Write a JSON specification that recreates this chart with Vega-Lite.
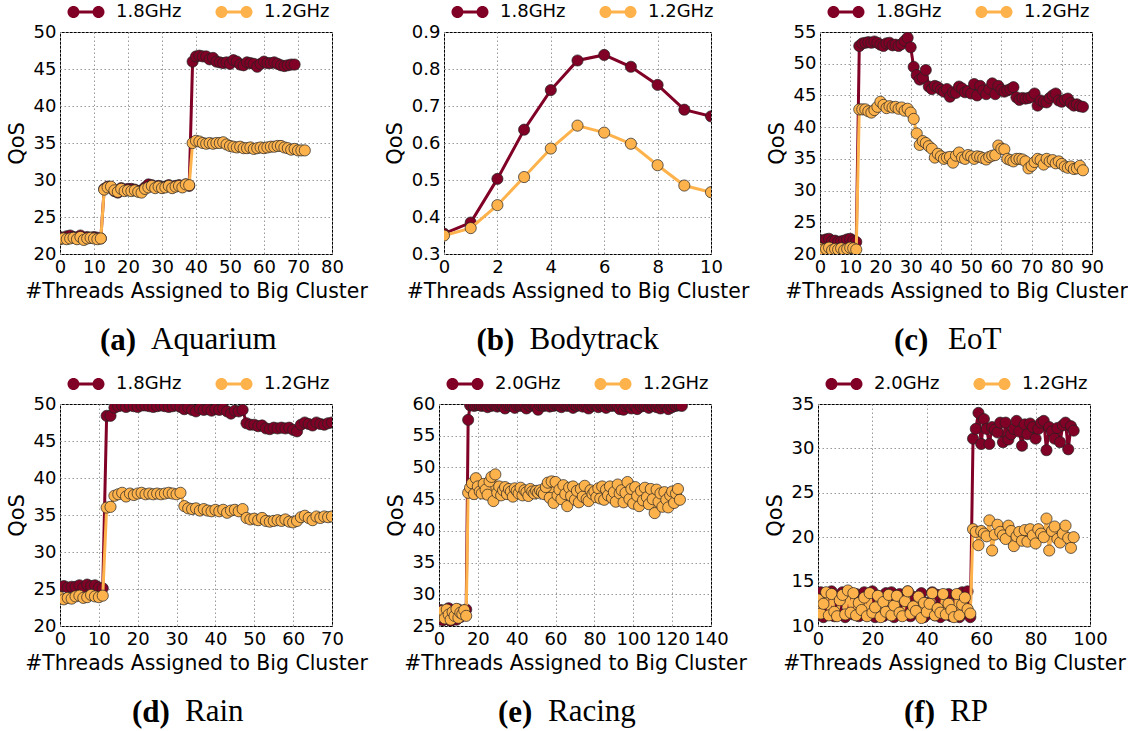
{
"padding": {"left": 5, "top": 1, "right": 0, "bottom": 0},
"config": {
 "font": "DejaVu Sans",
 "view": {"stroke": "#000", "strokeWidth": 1},
 "axis": {"labelFont": "DejaVu Sans", "labelFontSize": 18, "labelColor": "#000", "titleFont": "DejaVu Sans", "titleFontSize": 20.4, "titleFontWeight": "normal", "titleColor": "#000", "domain": false, "ticks": false, "labelPadding": 4, "grid": true, "gridColor": "#999", "gridDash": [1.5, 2.5], "gridWidth": 1, "labelFlush": false, "labelOverlap": false},
 "axisX": {"titlePadding": 5},
 "axisY": {"titleFontSize": 21, "titlePadding": 6},
 "legend": {"labelFont": "DejaVu Sans", "labelFontSize": 18, "labelColor": "#000", "labelLimit": 200, "symbolType": "M-1.25,-0.15L1.25,-0.15L1.25,0.15L-1.25,0.15Z M-1.85,0A0.6,0.6 0 1,1 -0.65,0A0.6,0.6 0 1,1 -1.85,0Z M0.65,0A0.6,0.6 0 1,1 1.85,0A0.6,0.6 0 1,1 0.65,0Z", "symbolSize": 400, "symbolStrokeWidth": 0, "symbolOpacity": 1, "labelOffset": 20, "columnPadding": 33, "padding": 0},
 "title": {"orient": "bottom", "anchor": "middle", "frame": "group", "font": "Liberation Serif", "fontSize": 31, "fontWeight": "bold", "color": "#000", "subtitleFont": "Liberation Serif", "subtitleFontSize": 31, "subtitleFontWeight": "normal", "subtitleColor": "#000", "subtitlePadding": -32, "offset": 25}
},
"datasets": {
"a": [
{"x":0,"y":22.3,"s":"1.8GHz"},{"x":1,"y":22.2,"s":"1.8GHz"},{"x":2,"y":22.4,"s":"1.8GHz"},{"x":3,"y":22.5,"s":"1.8GHz"},{"x":4,"y":22.3,"s":"1.8GHz"},{"x":5,"y":22.2,"s":"1.8GHz"},{"x":6,"y":22.5,"s":"1.8GHz"},{"x":7,"y":22.1,"s":"1.8GHz"},{"x":8,"y":22.3,"s":"1.8GHz"},{"x":9,"y":22.2,"s":"1.8GHz"},{"x":10,"y":22.3,"s":"1.8GHz"},{"x":11,"y":22.2,"s":"1.8GHz"},{"x":12,"y":22.1,"s":"1.8GHz"},
{"x":13,"y":28.8,"s":"1.8GHz"},{"x":14,"y":29.1,"s":"1.8GHz"},{"x":15,"y":29.0,"s":"1.8GHz"},{"x":16,"y":28.5,"s":"1.8GHz"},{"x":17,"y":28.3,"s":"1.8GHz"},{"x":18,"y":28.9,"s":"1.8GHz"},{"x":19,"y":28.7,"s":"1.8GHz"},{"x":20,"y":28.8,"s":"1.8GHz"},{"x":21,"y":28.8,"s":"1.8GHz"},{"x":22,"y":28.7,"s":"1.8GHz"},{"x":23,"y":28.5,"s":"1.8GHz"},{"x":24,"y":28.6,"s":"1.8GHz"},{"x":25,"y":29.0,"s":"1.8GHz"},{"x":26,"y":29.4,"s":"1.8GHz"},{"x":27,"y":29.3,"s":"1.8GHz"},{"x":28,"y":29.1,"s":"1.8GHz"},{"x":29,"y":29.2,"s":"1.8GHz"},{"x":30,"y":29.0,"s":"1.8GHz"},{"x":31,"y":29.1,"s":"1.8GHz"},{"x":32,"y":29.3,"s":"1.8GHz"},{"x":33,"y":29.0,"s":"1.8GHz"},{"x":34,"y":29.2,"s":"1.8GHz"},{"x":35,"y":29.3,"s":"1.8GHz"},{"x":36,"y":29.1,"s":"1.8GHz"},{"x":37,"y":29.4,"s":"1.8GHz"},{"x":38,"y":29.2,"s":"1.8GHz"},
{"x":39,"y":46.0,"s":"1.8GHz"},{"x":40,"y":46.7,"s":"1.8GHz"},{"x":41,"y":46.8,"s":"1.8GHz"},{"x":42,"y":46.7,"s":"1.8GHz"},{"x":43,"y":46.7,"s":"1.8GHz"},{"x":44,"y":46.3,"s":"1.8GHz"},{"x":45,"y":46.5,"s":"1.8GHz"},{"x":46,"y":46.0,"s":"1.8GHz"},{"x":47,"y":45.9,"s":"1.8GHz"},{"x":48,"y":45.8,"s":"1.8GHz"},{"x":49,"y":45.9,"s":"1.8GHz"},{"x":50,"y":45.7,"s":"1.8GHz"},{"x":51,"y":46.2,"s":"1.8GHz"},{"x":52,"y":46.0,"s":"1.8GHz"},{"x":53,"y":45.6,"s":"1.8GHz"},{"x":54,"y":45.5,"s":"1.8GHz"},{"x":55,"y":45.9,"s":"1.8GHz"},{"x":56,"y":45.8,"s":"1.8GHz"},{"x":57,"y":45.7,"s":"1.8GHz"},{"x":58,"y":45.3,"s":"1.8GHz"},{"x":59,"y":45.7,"s":"1.8GHz"},{"x":60,"y":46.0,"s":"1.8GHz"},{"x":61,"y":45.8,"s":"1.8GHz"},{"x":62,"y":45.8,"s":"1.8GHz"},{"x":63,"y":45.9,"s":"1.8GHz"},{"x":64,"y":45.7,"s":"1.8GHz"},{"x":65,"y":45.5,"s":"1.8GHz"},{"x":66,"y":45.4,"s":"1.8GHz"},{"x":67,"y":45.5,"s":"1.8GHz"},{"x":68,"y":45.6,"s":"1.8GHz"},{"x":69,"y":45.6,"s":"1.8GHz"},
{"x":0,"y":22.0,"s":"1.2GHz"},{"x":1,"y":22.1,"s":"1.2GHz"},{"x":2,"y":22.0,"s":"1.2GHz"},{"x":3,"y":22.1,"s":"1.2GHz"},{"x":4,"y":22.2,"s":"1.2GHz"},{"x":5,"y":22.0,"s":"1.2GHz"},{"x":6,"y":22.3,"s":"1.2GHz"},{"x":7,"y":21.9,"s":"1.2GHz"},{"x":8,"y":22.1,"s":"1.2GHz"},{"x":9,"y":22.2,"s":"1.2GHz"},{"x":10,"y":22.1,"s":"1.2GHz"},{"x":11,"y":22.0,"s":"1.2GHz"},{"x":12,"y":22.1,"s":"1.2GHz"},
{"x":13,"y":28.7,"s":"1.2GHz"},{"x":14,"y":29.0,"s":"1.2GHz"},{"x":15,"y":29.1,"s":"1.2GHz"},{"x":16,"y":28.6,"s":"1.2GHz"},{"x":17,"y":28.4,"s":"1.2GHz"},{"x":18,"y":28.8,"s":"1.2GHz"},{"x":19,"y":28.5,"s":"1.2GHz"},{"x":20,"y":28.6,"s":"1.2GHz"},{"x":21,"y":28.5,"s":"1.2GHz"},{"x":22,"y":28.6,"s":"1.2GHz"},{"x":23,"y":28.4,"s":"1.2GHz"},{"x":24,"y":28.3,"s":"1.2GHz"},{"x":25,"y":28.8,"s":"1.2GHz"},{"x":26,"y":29.0,"s":"1.2GHz"},{"x":27,"y":29.2,"s":"1.2GHz"},{"x":28,"y":28.9,"s":"1.2GHz"},{"x":29,"y":29.1,"s":"1.2GHz"},{"x":30,"y":28.9,"s":"1.2GHz"},{"x":31,"y":29.0,"s":"1.2GHz"},{"x":32,"y":29.2,"s":"1.2GHz"},{"x":33,"y":28.9,"s":"1.2GHz"},{"x":34,"y":29.1,"s":"1.2GHz"},{"x":35,"y":29.2,"s":"1.2GHz"},{"x":36,"y":29.0,"s":"1.2GHz"},{"x":37,"y":29.4,"s":"1.2GHz"},{"x":38,"y":29.3,"s":"1.2GHz"},
{"x":39,"y":35.0,"s":"1.2GHz"},{"x":40,"y":35.3,"s":"1.2GHz"},{"x":41,"y":35.2,"s":"1.2GHz"},{"x":42,"y":35.0,"s":"1.2GHz"},{"x":43,"y":34.9,"s":"1.2GHz"},{"x":44,"y":35.0,"s":"1.2GHz"},{"x":45,"y":34.9,"s":"1.2GHz"},{"x":46,"y":35.0,"s":"1.2GHz"},{"x":47,"y":35.0,"s":"1.2GHz"},{"x":48,"y":35.1,"s":"1.2GHz"},{"x":49,"y":34.8,"s":"1.2GHz"},{"x":50,"y":34.6,"s":"1.2GHz"},{"x":51,"y":34.5,"s":"1.2GHz"},{"x":52,"y":34.4,"s":"1.2GHz"},{"x":53,"y":34.5,"s":"1.2GHz"},{"x":54,"y":34.3,"s":"1.2GHz"},{"x":55,"y":34.3,"s":"1.2GHz"},{"x":56,"y":34.4,"s":"1.2GHz"},{"x":57,"y":34.2,"s":"1.2GHz"},{"x":58,"y":34.3,"s":"1.2GHz"},{"x":59,"y":34.4,"s":"1.2GHz"},{"x":60,"y":34.3,"s":"1.2GHz"},{"x":61,"y":34.4,"s":"1.2GHz"},{"x":62,"y":34.5,"s":"1.2GHz"},{"x":63,"y":34.5,"s":"1.2GHz"},{"x":64,"y":34.6,"s":"1.2GHz"},{"x":65,"y":34.6,"s":"1.2GHz"},{"x":66,"y":34.4,"s":"1.2GHz"},{"x":67,"y":34.3,"s":"1.2GHz"},{"x":68,"y":34.1,"s":"1.2GHz"},{"x":69,"y":34.2,"s":"1.2GHz"},{"x":70,"y":34.0,"s":"1.2GHz"},{"x":71,"y":34.0,"s":"1.2GHz"},{"x":72,"y":34.0,"s":"1.2GHz"}
],
"b": [
{"x":0,"y":0.355,"s":"1.8GHz"},{"x":1,"y":0.385,"s":"1.8GHz"},{"x":2,"y":0.503,"s":"1.8GHz"},{"x":3,"y":0.636,"s":"1.8GHz"},{"x":4,"y":0.743,"s":"1.8GHz"},{"x":5,"y":0.823,"s":"1.8GHz"},{"x":6,"y":0.838,"s":"1.8GHz"},{"x":7,"y":0.806,"s":"1.8GHz"},{"x":8,"y":0.757,"s":"1.8GHz"},{"x":9,"y":0.69,"s":"1.8GHz"},{"x":10,"y":0.672,"s":"1.8GHz"},
{"x":0,"y":0.35,"s":"1.2GHz"},{"x":1,"y":0.37,"s":"1.2GHz"},{"x":2,"y":0.432,"s":"1.2GHz"},{"x":3,"y":0.508,"s":"1.2GHz"},{"x":4,"y":0.585,"s":"1.2GHz"},{"x":5,"y":0.647,"s":"1.2GHz"},{"x":6,"y":0.628,"s":"1.2GHz"},{"x":7,"y":0.598,"s":"1.2GHz"},{"x":8,"y":0.54,"s":"1.2GHz"},{"x":9,"y":0.485,"s":"1.2GHz"},{"x":10,"y":0.467,"s":"1.2GHz"}
],
"c": [
{"x":0,"y":22.2,"s":"1.8GHz"},{"x":1,"y":22.1,"s":"1.8GHz"},{"x":2,"y":22.3,"s":"1.8GHz"},{"x":3,"y":22.4,"s":"1.8GHz"},{"x":4,"y":22.0,"s":"1.8GHz"},{"x":5,"y":22.1,"s":"1.8GHz"},{"x":6,"y":21.9,"s":"1.8GHz"},{"x":7,"y":22.0,"s":"1.8GHz"},{"x":8,"y":22.1,"s":"1.8GHz"},{"x":9,"y":22.3,"s":"1.8GHz"},{"x":10,"y":22.4,"s":"1.8GHz"},{"x":11,"y":22.1,"s":"1.8GHz"},{"x":12,"y":21.9,"s":"1.8GHz"},
{"x":13,"y":52.8,"s":"1.8GHz"},{"x":14,"y":53.2,"s":"1.8GHz"},{"x":15,"y":53.3,"s":"1.8GHz"},{"x":16,"y":53.4,"s":"1.8GHz"},{"x":17,"y":53.3,"s":"1.8GHz"},{"x":18,"y":53.5,"s":"1.8GHz"},{"x":19,"y":53.3,"s":"1.8GHz"},{"x":20,"y":53.0,"s":"1.8GHz"},{"x":21,"y":52.8,"s":"1.8GHz"},{"x":22,"y":53.2,"s":"1.8GHz"},{"x":23,"y":53.3,"s":"1.8GHz"},{"x":24,"y":52.9,"s":"1.8GHz"},{"x":25,"y":53.0,"s":"1.8GHz"},{"x":26,"y":52.8,"s":"1.8GHz"},{"x":27,"y":53.1,"s":"1.8GHz"},{"x":28,"y":53.6,"s":"1.8GHz"},{"x":29,"y":54.1,"s":"1.8GHz"},{"x":30,"y":52.6,"s":"1.8GHz"},
{"x":31,"y":49.5,"s":"1.8GHz"},{"x":32,"y":48.2,"s":"1.8GHz"},{"x":33,"y":47.5,"s":"1.8GHz"},{"x":34,"y":47.8,"s":"1.8GHz"},{"x":35,"y":49.0,"s":"1.8GHz"},{"x":36,"y":46.4,"s":"1.8GHz"},{"x":37,"y":46.0,"s":"1.8GHz"},{"x":38,"y":46.5,"s":"1.8GHz"},{"x":39,"y":46.3,"s":"1.8GHz"},{"x":40,"y":45.9,"s":"1.8GHz"},{"x":41,"y":45.6,"s":"1.8GHz"},{"x":42,"y":46.0,"s":"1.8GHz"},{"x":43,"y":44.8,"s":"1.8GHz"},{"x":44,"y":45.5,"s":"1.8GHz"},{"x":45,"y":45.4,"s":"1.8GHz"},{"x":46,"y":46.4,"s":"1.8GHz"},{"x":47,"y":46.1,"s":"1.8GHz"},{"x":48,"y":45.5,"s":"1.8GHz"},{"x":49,"y":45.7,"s":"1.8GHz"},{"x":50,"y":45.3,"s":"1.8GHz"},{"x":51,"y":46.8,"s":"1.8GHz"},{"x":52,"y":45.0,"s":"1.8GHz"},{"x":53,"y":46.5,"s":"1.8GHz"},{"x":54,"y":45.8,"s":"1.8GHz"},{"x":55,"y":45.2,"s":"1.8GHz"},{"x":56,"y":46.0,"s":"1.8GHz"},{"x":57,"y":46.9,"s":"1.8GHz"},{"x":58,"y":45.2,"s":"1.8GHz"},{"x":59,"y":46.5,"s":"1.8GHz"},{"x":60,"y":45.9,"s":"1.8GHz"},{"x":61,"y":45.6,"s":"1.8GHz"},{"x":62,"y":45.8,"s":"1.8GHz"},{"x":63,"y":46.0,"s":"1.8GHz"},{"x":64,"y":46.3,"s":"1.8GHz"},{"x":65,"y":44.7,"s":"1.8GHz"},{"x":66,"y":44.3,"s":"1.8GHz"},{"x":67,"y":44.6,"s":"1.8GHz"},{"x":68,"y":44.5,"s":"1.8GHz"},{"x":69,"y":44.6,"s":"1.8GHz"},{"x":70,"y":44.8,"s":"1.8GHz"},{"x":71,"y":45.3,"s":"1.8GHz"},{"x":72,"y":43.4,"s":"1.8GHz"},{"x":73,"y":44.2,"s":"1.8GHz"},{"x":74,"y":44.0,"s":"1.8GHz"},{"x":75,"y":43.9,"s":"1.8GHz"},{"x":76,"y":44.6,"s":"1.8GHz"},{"x":77,"y":45.0,"s":"1.8GHz"},{"x":78,"y":45.3,"s":"1.8GHz"},{"x":79,"y":44.2,"s":"1.8GHz"},{"x":80,"y":44.0,"s":"1.8GHz"},{"x":81,"y":44.3,"s":"1.8GHz"},{"x":82,"y":44.5,"s":"1.8GHz"},{"x":83,"y":43.8,"s":"1.8GHz"},{"x":84,"y":43.4,"s":"1.8GHz"},{"x":85,"y":43.6,"s":"1.8GHz"},{"x":86,"y":43.3,"s":"1.8GHz"},{"x":87,"y":43.2,"s":"1.8GHz"},
{"x":0,"y":20.9,"s":"1.2GHz"},{"x":1,"y":20.7,"s":"1.2GHz"},{"x":2,"y":20.8,"s":"1.2GHz"},{"x":3,"y":21.0,"s":"1.2GHz"},{"x":4,"y":20.6,"s":"1.2GHz"},{"x":5,"y":20.8,"s":"1.2GHz"},{"x":6,"y":20.7,"s":"1.2GHz"},{"x":7,"y":20.9,"s":"1.2GHz"},{"x":8,"y":20.6,"s":"1.2GHz"},{"x":9,"y":20.8,"s":"1.2GHz"},{"x":10,"y":21.0,"s":"1.2GHz"},{"x":11,"y":20.9,"s":"1.2GHz"},{"x":12,"y":20.7,"s":"1.2GHz"},
{"x":13,"y":42.8,"s":"1.2GHz"},{"x":14,"y":42.8,"s":"1.2GHz"},{"x":15,"y":42.8,"s":"1.2GHz"},{"x":16,"y":42.5,"s":"1.2GHz"},{"x":17,"y":42.3,"s":"1.2GHz"},{"x":18,"y":42.7,"s":"1.2GHz"},{"x":19,"y":43.2,"s":"1.2GHz"},{"x":20,"y":44.0,"s":"1.2GHz"},{"x":21,"y":43.5,"s":"1.2GHz"},{"x":22,"y":43.0,"s":"1.2GHz"},{"x":23,"y":43.3,"s":"1.2GHz"},{"x":24,"y":43.1,"s":"1.2GHz"},{"x":25,"y":43.2,"s":"1.2GHz"},{"x":26,"y":42.9,"s":"1.2GHz"},{"x":27,"y":43.1,"s":"1.2GHz"},{"x":28,"y":42.6,"s":"1.2GHz"},{"x":29,"y":42.9,"s":"1.2GHz"},{"x":30,"y":42.3,"s":"1.2GHz"},{"x":31,"y":41.3,"s":"1.2GHz"},{"x":32,"y":39.0,"s":"1.2GHz"},{"x":33,"y":37.2,"s":"1.2GHz"},{"x":34,"y":37.8,"s":"1.2GHz"},{"x":35,"y":37.5,"s":"1.2GHz"},{"x":36,"y":37.0,"s":"1.2GHz"},{"x":37,"y":36.6,"s":"1.2GHz"},{"x":38,"y":35.2,"s":"1.2GHz"},{"x":39,"y":35.8,"s":"1.2GHz"},{"x":40,"y":35.4,"s":"1.2GHz"},{"x":41,"y":35.0,"s":"1.2GHz"},{"x":42,"y":35.2,"s":"1.2GHz"},{"x":43,"y":35.3,"s":"1.2GHz"},{"x":44,"y":34.4,"s":"1.2GHz"},{"x":45,"y":35.5,"s":"1.2GHz"},{"x":46,"y":36.0,"s":"1.2GHz"},{"x":47,"y":35.2,"s":"1.2GHz"},{"x":48,"y":35.0,"s":"1.2GHz"},{"x":49,"y":35.6,"s":"1.2GHz"},{"x":50,"y":35.4,"s":"1.2GHz"},{"x":51,"y":35.0,"s":"1.2GHz"},{"x":52,"y":35.4,"s":"1.2GHz"},{"x":53,"y":35.3,"s":"1.2GHz"},{"x":54,"y":35.1,"s":"1.2GHz"},{"x":55,"y":34.9,"s":"1.2GHz"},{"x":56,"y":35.3,"s":"1.2GHz"},{"x":57,"y":35.5,"s":"1.2GHz"},{"x":58,"y":35.6,"s":"1.2GHz"},{"x":59,"y":37.1,"s":"1.2GHz"},{"x":60,"y":36.6,"s":"1.2GHz"},{"x":61,"y":36.5,"s":"1.2GHz"},{"x":62,"y":35.0,"s":"1.2GHz"},{"x":63,"y":34.8,"s":"1.2GHz"},{"x":64,"y":34.6,"s":"1.2GHz"},{"x":65,"y":35.0,"s":"1.2GHz"},{"x":66,"y":35.0,"s":"1.2GHz"},{"x":67,"y":34.9,"s":"1.2GHz"},{"x":68,"y":34.6,"s":"1.2GHz"},{"x":69,"y":33.5,"s":"1.2GHz"},{"x":70,"y":33.9,"s":"1.2GHz"},{"x":71,"y":34.5,"s":"1.2GHz"},{"x":72,"y":35.0,"s":"1.2GHz"},{"x":73,"y":34.8,"s":"1.2GHz"},{"x":74,"y":34.1,"s":"1.2GHz"},{"x":75,"y":35.0,"s":"1.2GHz"},{"x":76,"y":34.6,"s":"1.2GHz"},{"x":77,"y":34.8,"s":"1.2GHz"},{"x":78,"y":34.3,"s":"1.2GHz"},{"x":79,"y":34.6,"s":"1.2GHz"},{"x":80,"y":34.2,"s":"1.2GHz"},{"x":81,"y":33.8,"s":"1.2GHz"},{"x":82,"y":33.6,"s":"1.2GHz"},{"x":83,"y":33.8,"s":"1.2GHz"},{"x":84,"y":33.4,"s":"1.2GHz"},{"x":85,"y":33.5,"s":"1.2GHz"},{"x":86,"y":33.9,"s":"1.2GHz"},{"x":87,"y":33.2,"s":"1.2GHz"}
],
"d": [
{"x":0,"y":25.3,"s":"1.8GHz"},{"x":1,"y":25.4,"s":"1.8GHz"},{"x":2,"y":25.2,"s":"1.8GHz"},{"x":3,"y":25.3,"s":"1.8GHz"},{"x":4,"y":25.3,"s":"1.8GHz"},{"x":5,"y":25.5,"s":"1.8GHz"},{"x":6,"y":25.2,"s":"1.8GHz"},{"x":7,"y":25.6,"s":"1.8GHz"},{"x":8,"y":25.4,"s":"1.8GHz"},{"x":9,"y":25.5,"s":"1.8GHz"},{"x":10,"y":25.2,"s":"1.8GHz"},{"x":11,"y":25.1,"s":"1.8GHz"},
{"x":12,"y":48.4,"s":"1.8GHz"},{"x":13,"y":48.4,"s":"1.8GHz"},{"x":14,"y":49.5,"s":"1.8GHz"},{"x":15,"y":49.7,"s":"1.8GHz"},{"x":16,"y":49.8,"s":"1.8GHz"},{"x":17,"y":49.6,"s":"1.8GHz"},{"x":18,"y":49.8,"s":"1.8GHz"},{"x":19,"y":49.7,"s":"1.8GHz"},{"x":20,"y":49.6,"s":"1.8GHz"},{"x":21,"y":49.8,"s":"1.8GHz"},{"x":22,"y":49.8,"s":"1.8GHz"},{"x":23,"y":49.7,"s":"1.8GHz"},{"x":24,"y":49.6,"s":"1.8GHz"},{"x":25,"y":49.7,"s":"1.8GHz"},{"x":26,"y":49.8,"s":"1.8GHz"},{"x":27,"y":49.7,"s":"1.8GHz"},{"x":28,"y":49.6,"s":"1.8GHz"},{"x":29,"y":49.7,"s":"1.8GHz"},{"x":30,"y":49.8,"s":"1.8GHz"},{"x":31,"y":49.6,"s":"1.8GHz"},{"x":32,"y":49.3,"s":"1.8GHz"},{"x":33,"y":49.5,"s":"1.8GHz"},{"x":34,"y":49.2,"s":"1.8GHz"},{"x":35,"y":49.0,"s":"1.8GHz"},{"x":36,"y":49.4,"s":"1.8GHz"},{"x":37,"y":49.2,"s":"1.8GHz"},{"x":38,"y":49.3,"s":"1.8GHz"},{"x":39,"y":49.1,"s":"1.8GHz"},{"x":40,"y":49.3,"s":"1.8GHz"},{"x":41,"y":49.2,"s":"1.8GHz"},{"x":42,"y":49.4,"s":"1.8GHz"},{"x":43,"y":49.0,"s":"1.8GHz"},{"x":44,"y":48.7,"s":"1.8GHz"},{"x":45,"y":49.1,"s":"1.8GHz"},{"x":46,"y":49.0,"s":"1.8GHz"},{"x":47,"y":49.2,"s":"1.8GHz"},{"x":48,"y":47.4,"s":"1.8GHz"},{"x":49,"y":47.2,"s":"1.8GHz"},{"x":50,"y":47.2,"s":"1.8GHz"},{"x":51,"y":47.0,"s":"1.8GHz"},{"x":52,"y":47.1,"s":"1.8GHz"},{"x":53,"y":46.7,"s":"1.8GHz"},{"x":54,"y":46.6,"s":"1.8GHz"},{"x":55,"y":46.8,"s":"1.8GHz"},{"x":56,"y":46.7,"s":"1.8GHz"},{"x":57,"y":46.8,"s":"1.8GHz"},{"x":58,"y":46.7,"s":"1.8GHz"},{"x":59,"y":46.8,"s":"1.8GHz"},{"x":60,"y":46.5,"s":"1.8GHz"},{"x":61,"y":46.3,"s":"1.8GHz"},{"x":62,"y":47.2,"s":"1.8GHz"},{"x":63,"y":47.5,"s":"1.8GHz"},{"x":64,"y":47.3,"s":"1.8GHz"},{"x":65,"y":47.1,"s":"1.8GHz"},{"x":66,"y":47.5,"s":"1.8GHz"},{"x":67,"y":47.3,"s":"1.8GHz"},{"x":68,"y":47.2,"s":"1.8GHz"},{"x":69,"y":47.4,"s":"1.8GHz"},{"x":70,"y":47.5,"s":"1.8GHz"},
{"x":0,"y":23.9,"s":"1.2GHz"},{"x":1,"y":23.6,"s":"1.2GHz"},{"x":2,"y":23.8,"s":"1.2GHz"},{"x":3,"y":23.7,"s":"1.2GHz"},{"x":4,"y":24.0,"s":"1.2GHz"},{"x":5,"y":24.1,"s":"1.2GHz"},{"x":6,"y":23.8,"s":"1.2GHz"},{"x":7,"y":23.9,"s":"1.2GHz"},{"x":8,"y":24.2,"s":"1.2GHz"},{"x":9,"y":24.0,"s":"1.2GHz"},{"x":10,"y":23.9,"s":"1.2GHz"},{"x":11,"y":24.1,"s":"1.2GHz"},
{"x":12,"y":36.0,"s":"1.2GHz"},{"x":13,"y":36.1,"s":"1.2GHz"},{"x":14,"y":37.6,"s":"1.2GHz"},{"x":15,"y":37.8,"s":"1.2GHz"},{"x":16,"y":38.0,"s":"1.2GHz"},{"x":17,"y":37.5,"s":"1.2GHz"},{"x":18,"y":37.9,"s":"1.2GHz"},{"x":19,"y":37.7,"s":"1.2GHz"},{"x":20,"y":37.9,"s":"1.2GHz"},{"x":21,"y":38.0,"s":"1.2GHz"},{"x":22,"y":37.8,"s":"1.2GHz"},{"x":23,"y":37.9,"s":"1.2GHz"},{"x":24,"y":37.8,"s":"1.2GHz"},{"x":25,"y":37.9,"s":"1.2GHz"},{"x":26,"y":37.8,"s":"1.2GHz"},{"x":27,"y":37.9,"s":"1.2GHz"},{"x":28,"y":38.0,"s":"1.2GHz"},{"x":29,"y":37.9,"s":"1.2GHz"},{"x":30,"y":37.8,"s":"1.2GHz"},{"x":31,"y":38.0,"s":"1.2GHz"},
{"x":32,"y":36.2,"s":"1.2GHz"},{"x":33,"y":35.9,"s":"1.2GHz"},{"x":34,"y":35.8,"s":"1.2GHz"},{"x":35,"y":35.9,"s":"1.2GHz"},{"x":36,"y":35.6,"s":"1.2GHz"},{"x":37,"y":35.8,"s":"1.2GHz"},{"x":38,"y":35.6,"s":"1.2GHz"},{"x":39,"y":35.5,"s":"1.2GHz"},{"x":40,"y":35.7,"s":"1.2GHz"},{"x":41,"y":35.5,"s":"1.2GHz"},{"x":42,"y":35.7,"s":"1.2GHz"},{"x":43,"y":35.3,"s":"1.2GHz"},{"x":44,"y":35.6,"s":"1.2GHz"},{"x":45,"y":35.7,"s":"1.2GHz"},{"x":46,"y":35.5,"s":"1.2GHz"},{"x":47,"y":35.8,"s":"1.2GHz"},{"x":48,"y":34.6,"s":"1.2GHz"},{"x":49,"y":34.4,"s":"1.2GHz"},{"x":50,"y":34.5,"s":"1.2GHz"},{"x":51,"y":34.3,"s":"1.2GHz"},{"x":52,"y":34.6,"s":"1.2GHz"},{"x":53,"y":34.2,"s":"1.2GHz"},{"x":54,"y":34.1,"s":"1.2GHz"},{"x":55,"y":34.2,"s":"1.2GHz"},{"x":56,"y":34.3,"s":"1.2GHz"},{"x":57,"y":34.2,"s":"1.2GHz"},{"x":58,"y":34.4,"s":"1.2GHz"},{"x":59,"y":34.1,"s":"1.2GHz"},{"x":60,"y":34.0,"s":"1.2GHz"},{"x":61,"y":34.2,"s":"1.2GHz"},{"x":62,"y":34.7,"s":"1.2GHz"},{"x":63,"y":34.9,"s":"1.2GHz"},{"x":64,"y":34.6,"s":"1.2GHz"},{"x":65,"y":34.3,"s":"1.2GHz"},{"x":66,"y":34.8,"s":"1.2GHz"},{"x":67,"y":34.6,"s":"1.2GHz"},{"x":68,"y":34.8,"s":"1.2GHz"},{"x":69,"y":34.7,"s":"1.2GHz"},{"x":70,"y":34.8,"s":"1.2GHz"}
],
"e": [
{"x":0,"y":26.6,"s":"2.0GHz"},{"x":1,"y":27.5,"s":"2.0GHz"},{"x":2,"y":25.9,"s":"2.0GHz"},{"x":3,"y":27.0,"s":"2.0GHz"},{"x":4,"y":26.3,"s":"2.0GHz"},{"x":5,"y":27.8,"s":"2.0GHz"},{"x":6,"y":25.8,"s":"2.0GHz"},{"x":7,"y":26.9,"s":"2.0GHz"},{"x":8,"y":27.3,"s":"2.0GHz"},{"x":9,"y":26.0,"s":"2.0GHz"},{"x":10,"y":27.6,"s":"2.0GHz"},{"x":11,"y":26.4,"s":"2.0GHz"},{"x":12,"y":26.8,"s":"2.0GHz"},{"x":13,"y":27.2,"s":"2.0GHz"},{"x":14,"y":27.6,"s":"2.0GHz"},
{"x":15,"y":57.5,"s":"2.0GHz"},{"x":16,"y":59.8,"s":"2.0GHz"},{"x":17,"y":59.9,"s":"2.0GHz"},{"x":18,"y":59.7,"s":"2.0GHz"},{"x":19,"y":59.8,"s":"2.0GHz"},{"x":20,"y":59.9,"s":"2.0GHz"},{"x":21,"y":59.8,"s":"2.0GHz"},{"x":22,"y":59.7,"s":"2.0GHz"},{"x":23,"y":59.8,"s":"2.0GHz"},{"x":24,"y":59.9,"s":"2.0GHz"},{"x":25,"y":59.5,"s":"2.0GHz"},{"x":26,"y":59.8,"s":"2.0GHz"},{"x":27,"y":59.7,"s":"2.0GHz"},{"x":28,"y":59.9,"s":"2.0GHz"},{"x":29,"y":59.8,"s":"2.0GHz"},{"x":30,"y":59.6,"s":"2.0GHz"},{"x":31,"y":59.8,"s":"2.0GHz"},{"x":32,"y":59.9,"s":"2.0GHz"},{"x":33,"y":59.7,"s":"2.0GHz"},{"x":34,"y":59.3,"s":"2.0GHz"},{"x":35,"y":59.8,"s":"2.0GHz"},{"x":36,"y":59.9,"s":"2.0GHz"},{"x":37,"y":59.7,"s":"2.0GHz"},{"x":38,"y":59.8,"s":"2.0GHz"},{"x":39,"y":59.4,"s":"2.0GHz"},{"x":40,"y":59.8,"s":"2.0GHz"},{"x":41,"y":59.9,"s":"2.0GHz"},{"x":42,"y":59.7,"s":"2.0GHz"},{"x":43,"y":59.8,"s":"2.0GHz"},{"x":44,"y":59.9,"s":"2.0GHz"},{"x":45,"y":59.3,"s":"2.0GHz"},{"x":46,"y":59.8,"s":"2.0GHz"},{"x":47,"y":59.7,"s":"2.0GHz"},{"x":48,"y":59.9,"s":"2.0GHz"},{"x":49,"y":59.8,"s":"2.0GHz"},{"x":50,"y":59.6,"s":"2.0GHz"},{"x":51,"y":59.1,"s":"2.0GHz"},{"x":52,"y":59.8,"s":"2.0GHz"},{"x":53,"y":59.9,"s":"2.0GHz"},{"x":54,"y":59.7,"s":"2.0GHz"},{"x":55,"y":59.8,"s":"2.0GHz"},{"x":56,"y":59.9,"s":"2.0GHz"},{"x":57,"y":59.6,"s":"2.0GHz"},{"x":58,"y":59.8,"s":"2.0GHz"},{"x":59,"y":59.7,"s":"2.0GHz"},{"x":60,"y":59.9,"s":"2.0GHz"},{"x":61,"y":59.8,"s":"2.0GHz"},{"x":62,"y":59.7,"s":"2.0GHz"},{"x":63,"y":59.5,"s":"2.0GHz"},{"x":64,"y":59.8,"s":"2.0GHz"},{"x":65,"y":59.9,"s":"2.0GHz"},{"x":66,"y":59.7,"s":"2.0GHz"},{"x":67,"y":59.8,"s":"2.0GHz"},{"x":68,"y":59.9,"s":"2.0GHz"},{"x":69,"y":59.4,"s":"2.0GHz"},{"x":70,"y":59.8,"s":"2.0GHz"},{"x":71,"y":59.7,"s":"2.0GHz"},{"x":72,"y":59.9,"s":"2.0GHz"},{"x":73,"y":59.8,"s":"2.0GHz"},{"x":74,"y":59.6,"s":"2.0GHz"},{"x":75,"y":59.8,"s":"2.0GHz"},{"x":76,"y":59.9,"s":"2.0GHz"},{"x":77,"y":59.3,"s":"2.0GHz"},{"x":78,"y":59.8,"s":"2.0GHz"},{"x":79,"y":59.7,"s":"2.0GHz"},{"x":80,"y":59.9,"s":"2.0GHz"},{"x":81,"y":59.8,"s":"2.0GHz"},{"x":82,"y":59.5,"s":"2.0GHz"},{"x":83,"y":59.9,"s":"2.0GHz"},{"x":84,"y":59.7,"s":"2.0GHz"},{"x":85,"y":59.8,"s":"2.0GHz"},{"x":86,"y":59.4,"s":"2.0GHz"},{"x":87,"y":59.9,"s":"2.0GHz"},{"x":88,"y":59.8,"s":"2.0GHz"},{"x":89,"y":59.7,"s":"2.0GHz"},{"x":90,"y":59.8,"s":"2.0GHz"},{"x":91,"y":59.9,"s":"2.0GHz"},{"x":92,"y":59.6,"s":"2.0GHz"},{"x":93,"y":59.2,"s":"2.0GHz"},{"x":94,"y":59.8,"s":"2.0GHz"},{"x":95,"y":59.1,"s":"2.0GHz"},{"x":96,"y":59.7,"s":"2.0GHz"},{"x":97,"y":59.9,"s":"2.0GHz"},{"x":98,"y":59.8,"s":"2.0GHz"},{"x":99,"y":59.3,"s":"2.0GHz"},{"x":100,"y":59.8,"s":"2.0GHz"},{"x":101,"y":59.7,"s":"2.0GHz"},{"x":102,"y":59.2,"s":"2.0GHz"},{"x":103,"y":59.9,"s":"2.0GHz"},{"x":104,"y":59.6,"s":"2.0GHz"},{"x":105,"y":59.8,"s":"2.0GHz"},{"x":106,"y":59.7,"s":"2.0GHz"},{"x":107,"y":59.9,"s":"2.0GHz"},{"x":108,"y":59.4,"s":"2.0GHz"},{"x":109,"y":59.8,"s":"2.0GHz"},{"x":110,"y":59.7,"s":"2.0GHz"},{"x":111,"y":59.9,"s":"2.0GHz"},{"x":112,"y":59.5,"s":"2.0GHz"},{"x":113,"y":59.8,"s":"2.0GHz"},{"x":114,"y":59.3,"s":"2.0GHz"},{"x":115,"y":59.7,"s":"2.0GHz"},{"x":116,"y":59.9,"s":"2.0GHz"},{"x":117,"y":59.8,"s":"2.0GHz"},{"x":118,"y":59.2,"s":"2.0GHz"},{"x":119,"y":59.7,"s":"2.0GHz"},{"x":120,"y":59.5,"s":"2.0GHz"},{"x":121,"y":59.8,"s":"2.0GHz"},{"x":122,"y":59.7,"s":"2.0GHz"},{"x":123,"y":59.9,"s":"2.0GHz"},{"x":124,"y":59.8,"s":"2.0GHz"},{"x":125,"y":59.7,"s":"2.0GHz"},
{"x":0,"y":27.0,"s":"1.2GHz"},{"x":1,"y":26.5,"s":"1.2GHz"},{"x":2,"y":27.4,"s":"1.2GHz"},{"x":3,"y":26.2,"s":"1.2GHz"},{"x":4,"y":27.6,"s":"1.2GHz"},{"x":5,"y":26.8,"s":"1.2GHz"},{"x":6,"y":26.0,"s":"1.2GHz"},{"x":7,"y":27.2,"s":"1.2GHz"},{"x":8,"y":26.6,"s":"1.2GHz"},{"x":9,"y":27.7,"s":"1.2GHz"},{"x":10,"y":26.3,"s":"1.2GHz"},{"x":11,"y":27.1,"s":"1.2GHz"},{"x":12,"y":26.9,"s":"1.2GHz"},{"x":13,"y":27.5,"s":"1.2GHz"},{"x":14,"y":26.6,"s":"1.2GHz"},
{"x":15,"y":46.0,"s":"1.2GHz"},{"x":16,"y":46.8,"s":"1.2GHz"},{"x":17,"y":47.5,"s":"1.2GHz"},{"x":18,"y":45.8,"s":"1.2GHz"},{"x":19,"y":48.3,"s":"1.2GHz"},{"x":20,"y":47.0,"s":"1.2GHz"},{"x":21,"y":46.2,"s":"1.2GHz"},{"x":22,"y":45.9,"s":"1.2GHz"},{"x":23,"y":47.4,"s":"1.2GHz"},{"x":24,"y":46.5,"s":"1.2GHz"},{"x":25,"y":45.7,"s":"1.2GHz"},{"x":26,"y":47.8,"s":"1.2GHz"},{"x":27,"y":48.5,"s":"1.2GHz"},{"x":28,"y":44.7,"s":"1.2GHz"},{"x":29,"y":48.9,"s":"1.2GHz"},{"x":30,"y":46.0,"s":"1.2GHz"},{"x":31,"y":47.0,"s":"1.2GHz"},{"x":32,"y":45.6,"s":"1.2GHz"},{"x":33,"y":46.4,"s":"1.2GHz"},{"x":34,"y":46.9,"s":"1.2GHz"},{"x":35,"y":45.8,"s":"1.2GHz"},{"x":36,"y":46.6,"s":"1.2GHz"},{"x":37,"y":46.2,"s":"1.2GHz"},{"x":38,"y":45.4,"s":"1.2GHz"},{"x":39,"y":46.7,"s":"1.2GHz"},{"x":40,"y":46.3,"s":"1.2GHz"},{"x":41,"y":45.9,"s":"1.2GHz"},{"x":42,"y":46.8,"s":"1.2GHz"},{"x":43,"y":45.6,"s":"1.2GHz"},{"x":44,"y":46.4,"s":"1.2GHz"},{"x":45,"y":46.1,"s":"1.2GHz"},{"x":46,"y":45.5,"s":"1.2GHz"},{"x":47,"y":46.6,"s":"1.2GHz"},{"x":48,"y":46.2,"s":"1.2GHz"},{"x":49,"y":45.9,"s":"1.2GHz"},{"x":50,"y":46.3,"s":"1.2GHz"},{"x":51,"y":46.0,"s":"1.2GHz"},{"x":52,"y":46.4,"s":"1.2GHz"},{"x":53,"y":46.1,"s":"1.2GHz"},{"x":54,"y":45.8,"s":"1.2GHz"},{"x":55,"y":46.9,"s":"1.2GHz"},{"x":56,"y":47.6,"s":"1.2GHz"},{"x":57,"y":45.2,"s":"1.2GHz"},{"x":58,"y":47.8,"s":"1.2GHz"},{"x":59,"y":44.4,"s":"1.2GHz"},{"x":60,"y":47.7,"s":"1.2GHz"},{"x":61,"y":45.6,"s":"1.2GHz"},{"x":62,"y":46.5,"s":"1.2GHz"},{"x":63,"y":45.0,"s":"1.2GHz"},{"x":64,"y":47.2,"s":"1.2GHz"},{"x":65,"y":45.8,"s":"1.2GHz"},{"x":66,"y":43.9,"s":"1.2GHz"},{"x":67,"y":46.8,"s":"1.2GHz"},{"x":68,"y":45.5,"s":"1.2GHz"},{"x":69,"y":47.0,"s":"1.2GHz"},{"x":70,"y":44.9,"s":"1.2GHz"},{"x":71,"y":46.3,"s":"1.2GHz"},{"x":72,"y":44.5,"s":"1.2GHz"},{"x":73,"y":46.6,"s":"1.2GHz"},{"x":74,"y":45.4,"s":"1.2GHz"},{"x":75,"y":47.1,"s":"1.2GHz"},{"x":76,"y":45.0,"s":"1.2GHz"},{"x":77,"y":44.7,"s":"1.2GHz"},{"x":78,"y":46.4,"s":"1.2GHz"},{"x":79,"y":45.8,"s":"1.2GHz"},{"x":80,"y":46.2,"s":"1.2GHz"},{"x":81,"y":45.3,"s":"1.2GHz"},{"x":82,"y":46.7,"s":"1.2GHz"},{"x":83,"y":45.1,"s":"1.2GHz"},{"x":84,"y":47.0,"s":"1.2GHz"},{"x":85,"y":44.9,"s":"1.2GHz"},{"x":86,"y":46.5,"s":"1.2GHz"},{"x":87,"y":45.6,"s":"1.2GHz"},{"x":88,"y":47.0,"s":"1.2GHz"},{"x":89,"y":45.2,"s":"1.2GHz"},{"x":90,"y":46.1,"s":"1.2GHz"},{"x":91,"y":44.6,"s":"1.2GHz"},{"x":92,"y":47.3,"s":"1.2GHz"},{"x":93,"y":45.9,"s":"1.2GHz"},{"x":94,"y":46.4,"s":"1.2GHz"},{"x":95,"y":44.5,"s":"1.2GHz"},{"x":96,"y":46.0,"s":"1.2GHz"},{"x":97,"y":47.7,"s":"1.2GHz"},{"x":98,"y":45.0,"s":"1.2GHz"},{"x":99,"y":46.6,"s":"1.2GHz"},{"x":100,"y":44.3,"s":"1.2GHz"},{"x":101,"y":46.9,"s":"1.2GHz"},{"x":102,"y":45.5,"s":"1.2GHz"},{"x":103,"y":43.9,"s":"1.2GHz"},{"x":104,"y":46.3,"s":"1.2GHz"},{"x":105,"y":44.8,"s":"1.2GHz"},{"x":106,"y":46.8,"s":"1.2GHz"},{"x":107,"y":45.3,"s":"1.2GHz"},{"x":108,"y":44.2,"s":"1.2GHz"},{"x":109,"y":46.6,"s":"1.2GHz"},{"x":110,"y":45.0,"s":"1.2GHz"},{"x":111,"y":42.8,"s":"1.2GHz"},{"x":112,"y":46.5,"s":"1.2GHz"},{"x":113,"y":44.6,"s":"1.2GHz"},{"x":114,"y":45.9,"s":"1.2GHz"},{"x":115,"y":43.8,"s":"1.2GHz"},{"x":116,"y":46.1,"s":"1.2GHz"},{"x":117,"y":44.9,"s":"1.2GHz"},{"x":118,"y":43.7,"s":"1.2GHz"},{"x":119,"y":45.6,"s":"1.2GHz"},{"x":120,"y":46.2,"s":"1.2GHz"},{"x":121,"y":44.4,"s":"1.2GHz"},{"x":122,"y":45.9,"s":"1.2GHz"},{"x":123,"y":46.6,"s":"1.2GHz"},{"x":124,"y":44.9,"s":"1.2GHz"}
],
"f": [
{"x":0,"y":11.2,"s":"2.0GHz"},{"x":1,"y":13.8,"s":"2.0GHz"},{"x":2,"y":11.0,"s":"2.0GHz"},{"x":3,"y":13.5,"s":"2.0GHz"},{"x":4,"y":12.0,"s":"2.0GHz"},{"x":5,"y":13.9,"s":"2.0GHz"},{"x":6,"y":11.1,"s":"2.0GHz"},{"x":7,"y":13.2,"s":"2.0GHz"},{"x":8,"y":11.4,"s":"2.0GHz"},{"x":9,"y":13.8,"s":"2.0GHz"},{"x":10,"y":11.0,"s":"2.0GHz"},{"x":11,"y":12.4,"s":"2.0GHz"},{"x":12,"y":13.7,"s":"2.0GHz"},{"x":13,"y":11.3,"s":"2.0GHz"},{"x":14,"y":13.6,"s":"2.0GHz"},{"x":15,"y":11.1,"s":"2.0GHz"},{"x":16,"y":12.9,"s":"2.0GHz"},{"x":17,"y":13.8,"s":"2.0GHz"},{"x":18,"y":11.2,"s":"2.0GHz"},{"x":19,"y":11.5,"s":"2.0GHz"},{"x":20,"y":13.9,"s":"2.0GHz"},{"x":21,"y":11.0,"s":"2.0GHz"},{"x":22,"y":13.4,"s":"2.0GHz"},{"x":23,"y":12.2,"s":"2.0GHz"},{"x":24,"y":11.1,"s":"2.0GHz"},{"x":25,"y":13.7,"s":"2.0GHz"},{"x":26,"y":11.3,"s":"2.0GHz"},{"x":27,"y":13.8,"s":"2.0GHz"},{"x":28,"y":11.0,"s":"2.0GHz"},{"x":29,"y":12.5,"s":"2.0GHz"},{"x":30,"y":13.6,"s":"2.0GHz"},{"x":31,"y":11.2,"s":"2.0GHz"},{"x":32,"y":11.8,"s":"2.0GHz"},{"x":33,"y":13.9,"s":"2.0GHz"},{"x":34,"y":11.1,"s":"2.0GHz"},{"x":35,"y":13.3,"s":"2.0GHz"},{"x":36,"y":11.5,"s":"2.0GHz"},{"x":37,"y":12.0,"s":"2.0GHz"},{"x":38,"y":13.7,"s":"2.0GHz"},{"x":39,"y":11.0,"s":"2.0GHz"},{"x":40,"y":12.6,"s":"2.0GHz"},{"x":41,"y":11.4,"s":"2.0GHz"},{"x":42,"y":13.8,"s":"2.0GHz"},{"x":43,"y":11.2,"s":"2.0GHz"},{"x":44,"y":13.5,"s":"2.0GHz"},{"x":45,"y":11.0,"s":"2.0GHz"},{"x":46,"y":12.7,"s":"2.0GHz"},{"x":47,"y":11.3,"s":"2.0GHz"},{"x":48,"y":13.6,"s":"2.0GHz"},{"x":49,"y":11.1,"s":"2.0GHz"},{"x":50,"y":12.2,"s":"2.0GHz"},{"x":51,"y":13.4,"s":"2.0GHz"},{"x":52,"y":11.0,"s":"2.0GHz"},{"x":53,"y":13.8,"s":"2.0GHz"},{"x":54,"y":11.5,"s":"2.0GHz"},{"x":55,"y":13.9,"s":"2.0GHz"},{"x":56,"y":11.0,"s":"2.0GHz"},
{"x":57,"y":31.1,"s":"2.0GHz"},{"x":58,"y":32.2,"s":"2.0GHz"},{"x":59,"y":34.0,"s":"2.0GHz"},{"x":60,"y":30.5,"s":"2.0GHz"},{"x":61,"y":33.3,"s":"2.0GHz"},{"x":62,"y":32.2,"s":"2.0GHz"},{"x":63,"y":30.5,"s":"2.0GHz"},{"x":64,"y":32.4,"s":"2.0GHz"},{"x":65,"y":32.1,"s":"2.0GHz"},{"x":66,"y":31.8,"s":"2.0GHz"},{"x":67,"y":32.9,"s":"2.0GHz"},{"x":68,"y":30.7,"s":"2.0GHz"},{"x":69,"y":32.9,"s":"2.0GHz"},{"x":70,"y":31.0,"s":"2.0GHz"},{"x":71,"y":31.6,"s":"2.0GHz"},{"x":72,"y":32.2,"s":"2.0GHz"},{"x":73,"y":33.1,"s":"2.0GHz"},{"x":74,"y":31.9,"s":"2.0GHz"},{"x":75,"y":30.3,"s":"2.0GHz"},{"x":76,"y":32.7,"s":"2.0GHz"},{"x":77,"y":31.6,"s":"2.0GHz"},{"x":78,"y":32.8,"s":"2.0GHz"},{"x":79,"y":32.4,"s":"2.0GHz"},{"x":80,"y":31.1,"s":"2.0GHz"},{"x":81,"y":32.2,"s":"2.0GHz"},{"x":82,"y":32.9,"s":"2.0GHz"},{"x":83,"y":33.1,"s":"2.0GHz"},{"x":84,"y":29.8,"s":"2.0GHz"},{"x":85,"y":32.4,"s":"2.0GHz"},{"x":86,"y":31.9,"s":"2.0GHz"},{"x":87,"y":31.1,"s":"2.0GHz"},{"x":88,"y":32.3,"s":"2.0GHz"},{"x":89,"y":30.7,"s":"2.0GHz"},{"x":90,"y":32.6,"s":"2.0GHz"},{"x":91,"y":32.9,"s":"2.0GHz"},{"x":92,"y":29.9,"s":"2.0GHz"},{"x":93,"y":32.5,"s":"2.0GHz"},{"x":94,"y":32.0,"s":"2.0GHz"},
{"x":0,"y":13.0,"s":"1.2GHz"},{"x":1,"y":11.4,"s":"1.2GHz"},{"x":2,"y":12.5,"s":"1.2GHz"},{"x":3,"y":13.8,"s":"1.2GHz"},{"x":4,"y":11.2,"s":"1.2GHz"},{"x":5,"y":13.6,"s":"1.2GHz"},{"x":6,"y":11.6,"s":"1.2GHz"},{"x":7,"y":11.1,"s":"1.2GHz"},{"x":8,"y":12.9,"s":"1.2GHz"},{"x":9,"y":13.5,"s":"1.2GHz"},{"x":10,"y":11.3,"s":"1.2GHz"},{"x":11,"y":14.0,"s":"1.2GHz"},{"x":12,"y":11.5,"s":"1.2GHz"},{"x":13,"y":13.7,"s":"1.2GHz"},{"x":14,"y":11.2,"s":"1.2GHz"},{"x":15,"y":12.6,"s":"1.2GHz"},{"x":16,"y":11.8,"s":"1.2GHz"},{"x":17,"y":13.2,"s":"1.2GHz"},{"x":18,"y":11.1,"s":"1.2GHz"},{"x":19,"y":13.7,"s":"1.2GHz"},{"x":20,"y":11.5,"s":"1.2GHz"},{"x":21,"y":12.1,"s":"1.2GHz"},{"x":22,"y":13.4,"s":"1.2GHz"},{"x":23,"y":11.0,"s":"1.2GHz"},{"x":24,"y":12.7,"s":"1.2GHz"},{"x":25,"y":11.6,"s":"1.2GHz"},{"x":26,"y":13.5,"s":"1.2GHz"},{"x":27,"y":11.2,"s":"1.2GHz"},{"x":28,"y":12.3,"s":"1.2GHz"},{"x":29,"y":13.4,"s":"1.2GHz"},{"x":30,"y":11.5,"s":"1.2GHz"},{"x":31,"y":11.1,"s":"1.2GHz"},{"x":32,"y":12.8,"s":"1.2GHz"},{"x":33,"y":13.9,"s":"1.2GHz"},{"x":34,"y":11.4,"s":"1.2GHz"},{"x":35,"y":12.2,"s":"1.2GHz"},{"x":36,"y":11.7,"s":"1.2GHz"},{"x":37,"y":13.3,"s":"1.2GHz"},{"x":38,"y":10.9,"s":"1.2GHz"},{"x":39,"y":12.6,"s":"1.2GHz"},{"x":40,"y":11.6,"s":"1.2GHz"},{"x":41,"y":12.5,"s":"1.2GHz"},{"x":42,"y":13.7,"s":"1.2GHz"},{"x":43,"y":11.2,"s":"1.2GHz"},{"x":44,"y":12.0,"s":"1.2GHz"},{"x":45,"y":11.5,"s":"1.2GHz"},{"x":46,"y":13.6,"s":"1.2GHz"},{"x":47,"y":11.3,"s":"1.2GHz"},{"x":48,"y":12.5,"s":"1.2GHz"},{"x":49,"y":11.8,"s":"1.2GHz"},{"x":50,"y":11.0,"s":"1.2GHz"},{"x":51,"y":13.6,"s":"1.2GHz"},{"x":52,"y":11.2,"s":"1.2GHz"},{"x":53,"y":12.4,"s":"1.2GHz"},{"x":54,"y":13.2,"s":"1.2GHz"},{"x":55,"y":11.9,"s":"1.2GHz"},{"x":56,"y":11.4,"s":"1.2GHz"},
{"x":57,"y":20.9,"s":"1.2GHz"},{"x":58,"y":20.6,"s":"1.2GHz"},{"x":59,"y":19.1,"s":"1.2GHz"},{"x":60,"y":20.7,"s":"1.2GHz"},{"x":61,"y":20.4,"s":"1.2GHz"},{"x":62,"y":20.1,"s":"1.2GHz"},{"x":63,"y":21.9,"s":"1.2GHz"},{"x":64,"y":18.5,"s":"1.2GHz"},{"x":65,"y":20.3,"s":"1.2GHz"},{"x":66,"y":21.4,"s":"1.2GHz"},{"x":67,"y":20.6,"s":"1.2GHz"},{"x":68,"y":20.2,"s":"1.2GHz"},{"x":69,"y":19.8,"s":"1.2GHz"},{"x":70,"y":21.3,"s":"1.2GHz"},{"x":71,"y":20.7,"s":"1.2GHz"},{"x":72,"y":19.0,"s":"1.2GHz"},{"x":73,"y":20.1,"s":"1.2GHz"},{"x":74,"y":20.6,"s":"1.2GHz"},{"x":75,"y":19.6,"s":"1.2GHz"},{"x":76,"y":20.8,"s":"1.2GHz"},{"x":77,"y":19.5,"s":"1.2GHz"},{"x":78,"y":20.9,"s":"1.2GHz"},{"x":79,"y":20.2,"s":"1.2GHz"},{"x":80,"y":19.3,"s":"1.2GHz"},{"x":81,"y":20.9,"s":"1.2GHz"},{"x":82,"y":20.4,"s":"1.2GHz"},{"x":83,"y":20.0,"s":"1.2GHz"},{"x":84,"y":22.1,"s":"1.2GHz"},{"x":85,"y":18.5,"s":"1.2GHz"},{"x":86,"y":20.7,"s":"1.2GHz"},{"x":87,"y":21.2,"s":"1.2GHz"},{"x":88,"y":19.8,"s":"1.2GHz"},{"x":89,"y":19.4,"s":"1.2GHz"},{"x":90,"y":20.4,"s":"1.2GHz"},{"x":91,"y":21.3,"s":"1.2GHz"},{"x":92,"y":19.9,"s":"1.2GHz"},{"x":93,"y":18.8,"s":"1.2GHz"},{"x":94,"y":20.0,"s":"1.2GHz"}
]
},
"spacing": 16,
"resolve": {"scale": {"color": "independent"}, "legend": {"color": "independent"}},
"vconcat": [
{"hconcat": [
{"width": 272, "height": 222, "data": {"name": "a"},
 "title": {"text": "(a)", "subtitle": "Aquarium", "align": "left", "dx": -45, "encoding": {"dx": {"value": -96}}},
 "encoding": {
  "x": {"field": "x", "type": "quantitative", "scale": {"domain": [0, 80], "nice": false, "zero": false}, "axis": {"values": [0,10,20,30,40,50,60,70,80], "title": "#Threads Assigned to Big Cluster"}},
  "y": {"field": "y", "type": "quantitative", "scale": {"domain": [20, 50], "nice": false, "zero": false}, "axis": {"values": [20,25,30,35,40,45,50], "title": "QoS"}},
  "color": {"field": "s", "type": "nominal", "scale": {"domain": ["1.8GHz", "1.2GHz"], "range": ["#800026", "#feb24c"]}, "legend": {"title": null, "orient": "none", "legendX": 16, "legendY": -30, "direction": "horizontal", "labelFont": "DejaVu Sans", "labelFontSize": 18, "encode": {"labels": {"update": {"fontSize": {"value": 18}, "font": {"value": "DejaVu Sans"}}}, "symbols": {"update": {"fill": {"signal": "datum.value === '1.2GHz' ? '#feb24c' : '#800026'"}, "strokeWidth": {"value": 0}, "opacity": {"value": 1}}}}}}
 },
 "layer": [
  {"transform": [{"filter": "datum.s == '1.8GHz'"}], "mark": {"type": "line", "strokeWidth": 3, "clip": true}},
  {"transform": [{"filter": "datum.s == '1.8GHz'"}], "mark": {"type": "point", "filled": true, "size": 125, "opacity": 1, "stroke": "#222", "strokeWidth": 0.7, "clip": true}},
  {"transform": [{"filter": "datum.s == '1.2GHz'"}], "mark": {"type": "line", "strokeWidth": 3, "clip": true}},
  {"transform": [{"filter": "datum.s == '1.2GHz'"}], "mark": {"type": "point", "filled": true, "size": 125, "opacity": 1, "stroke": "#222", "strokeWidth": 0.7, "clip": true}}
 ]},
{"width": 267, "height": 222, "data": {"name": "b"},
 "title": {"text": "(b)", "subtitle": "Bodytrack", "align": "left", "dx": -48, "encoding": {"dx": {"value": -101}}},
 "encoding": {
  "x": {"field": "x", "type": "quantitative", "scale": {"domain": [0, 10], "nice": false, "zero": false}, "axis": {"values": [0,2,4,6,8,10], "title": "#Threads Assigned to Big Cluster"}},
  "y": {"field": "y", "type": "quantitative", "scale": {"domain": [0.3, 0.9], "nice": false, "zero": false}, "axis": {"values": [0.3,0.4,0.5,0.6,0.7,0.8,0.9], "format": ".1f", "title": "QoS"}},
  "color": {"field": "s", "type": "nominal", "scale": {"domain": ["1.8GHz", "1.2GHz"], "range": ["#800026", "#feb24c"]}, "legend": {"title": null, "orient": "none", "legendX": 16, "legendY": -30, "direction": "horizontal", "labelFont": "DejaVu Sans", "labelFontSize": 18, "encode": {"labels": {"update": {"fontSize": {"value": 18}, "font": {"value": "DejaVu Sans"}}}, "symbols": {"update": {"fill": {"signal": "datum.value === '1.2GHz' ? '#feb24c' : '#800026'"}, "strokeWidth": {"value": 0}, "opacity": {"value": 1}}}}}}
 },
 "layer": [
  {"transform": [{"filter": "datum.s == '1.8GHz'"}], "mark": {"type": "line", "strokeWidth": 3, "clip": true}},
  {"transform": [{"filter": "datum.s == '1.8GHz'"}], "mark": {"type": "point", "filled": true, "size": 125, "opacity": 1, "stroke": "#222", "strokeWidth": 0.7, "clip": true}},
  {"transform": [{"filter": "datum.s == '1.2GHz'"}], "mark": {"type": "line", "strokeWidth": 3, "clip": true}},
  {"transform": [{"filter": "datum.s == '1.2GHz'"}], "mark": {"type": "point", "filled": true, "size": 125, "opacity": 1, "stroke": "#222", "strokeWidth": 0.7, "clip": true}}
 ]},
{"width": 272, "height": 222, "data": {"name": "c"},
 "title": {"text": "(c)", "subtitle": "EoT", "align": "left", "dx": -8, "encoding": {"dx": {"value": -62}}},
 "encoding": {
  "x": {"field": "x", "type": "quantitative", "scale": {"domain": [0, 90], "nice": false, "zero": false}, "axis": {"values": [0,10,20,30,40,50,60,70,80,90], "title": "#Threads Assigned to Big Cluster"}},
  "y": {"field": "y", "type": "quantitative", "scale": {"domain": [20, 55], "nice": false, "zero": false}, "axis": {"values": [20,25,30,35,40,45,50,55], "title": "QoS"}},
  "color": {"field": "s", "type": "nominal", "scale": {"domain": ["1.8GHz", "1.2GHz"], "range": ["#800026", "#feb24c"]}, "legend": {"title": null, "orient": "none", "legendX": 16, "legendY": -30, "direction": "horizontal", "labelFont": "DejaVu Sans", "labelFontSize": 18, "encode": {"labels": {"update": {"fontSize": {"value": 18}, "font": {"value": "DejaVu Sans"}}}, "symbols": {"update": {"fill": {"signal": "datum.value === '1.2GHz' ? '#feb24c' : '#800026'"}, "strokeWidth": {"value": 0}, "opacity": {"value": 1}}}}}}
 },
 "layer": [
  {"transform": [{"filter": "datum.s == '1.8GHz'"}], "mark": {"type": "line", "strokeWidth": 3, "clip": true}},
  {"transform": [{"filter": "datum.s == '1.8GHz'"}], "mark": {"type": "point", "filled": true, "size": 125, "opacity": 1, "stroke": "#222", "strokeWidth": 0.7, "clip": true}},
  {"transform": [{"filter": "datum.s == '1.2GHz'"}], "mark": {"type": "line", "strokeWidth": 3, "clip": true}},
  {"transform": [{"filter": "datum.s == '1.2GHz'"}], "mark": {"type": "point", "filled": true, "size": 125, "opacity": 1, "stroke": "#222", "strokeWidth": 0.7, "clip": true}}
 ]}
], "spacing": 15, "resolve": {"scale": {"color": "independent"}, "legend": {"color": "independent"}}},
{"hconcat": [
{"width": 272, "height": 222, "data": {"name": "d"},
 "title": {"text": "(d)", "subtitle": "Rain", "align": "left", "dx": -11, "encoding": {"dx": {"value": -64}}},
 "encoding": {
  "x": {"field": "x", "type": "quantitative", "scale": {"domain": [0, 70], "nice": false, "zero": false}, "axis": {"values": [0,10,20,30,40,50,60,70], "title": "#Threads Assigned to Big Cluster"}},
  "y": {"field": "y", "type": "quantitative", "scale": {"domain": [20, 50], "nice": false, "zero": false}, "axis": {"values": [20,25,30,35,40,45,50], "title": "QoS"}},
  "color": {"field": "s", "type": "nominal", "scale": {"domain": ["1.8GHz", "1.2GHz"], "range": ["#800026", "#feb24c"]}, "legend": {"title": null, "orient": "none", "legendX": 16, "legendY": -30, "direction": "horizontal", "labelFont": "DejaVu Sans", "labelFontSize": 18, "encode": {"labels": {"update": {"fontSize": {"value": 18}, "font": {"value": "DejaVu Sans"}}}, "symbols": {"update": {"fill": {"signal": "datum.value === '1.2GHz' ? '#feb24c' : '#800026'"}, "strokeWidth": {"value": 0}, "opacity": {"value": 1}}}}}}
 },
 "layer": [
  {"transform": [{"filter": "datum.s == '1.8GHz'"}], "mark": {"type": "line", "strokeWidth": 3, "clip": true}},
  {"transform": [{"filter": "datum.s == '1.8GHz'"}], "mark": {"type": "point", "filled": true, "size": 125, "opacity": 1, "stroke": "#222", "strokeWidth": 0.7, "clip": true}},
  {"transform": [{"filter": "datum.s == '1.2GHz'"}], "mark": {"type": "line", "strokeWidth": 3, "clip": true}},
  {"transform": [{"filter": "datum.s == '1.2GHz'"}], "mark": {"type": "point", "filled": true, "size": 125, "opacity": 1, "stroke": "#222", "strokeWidth": 0.7, "clip": true}}
 ]},
{"width": 272, "height": 222, "data": {"name": "e"},
 "title": {"text": "(e)", "subtitle": "Racing", "align": "left", "dx": -27, "encoding": {"dx": {"value": -77}}},
 "encoding": {
  "x": {"field": "x", "type": "quantitative", "scale": {"domain": [0, 140], "nice": false, "zero": false}, "axis": {"values": [0,20,40,60,80,100,120,140], "title": "#Threads Assigned to Big Cluster"}},
  "y": {"field": "y", "type": "quantitative", "scale": {"domain": [25, 60], "nice": false, "zero": false}, "axis": {"values": [25,30,35,40,45,50,55,60], "title": "QoS"}},
  "color": {"field": "s", "type": "nominal", "scale": {"domain": ["2.0GHz", "1.2GHz"], "range": ["#800026", "#feb24c"]}, "legend": {"title": null, "orient": "none", "legendX": 16, "legendY": -30, "direction": "horizontal", "labelFont": "DejaVu Sans", "labelFontSize": 18, "encode": {"labels": {"update": {"fontSize": {"value": 18}, "font": {"value": "DejaVu Sans"}}}, "symbols": {"update": {"fill": {"signal": "datum.value === '1.2GHz' ? '#feb24c' : '#800026'"}, "strokeWidth": {"value": 0}, "opacity": {"value": 1}}}}}}
 },
 "layer": [
  {"transform": [{"filter": "datum.s == '2.0GHz'"}], "mark": {"type": "line", "strokeWidth": 3, "clip": true}},
  {"transform": [{"filter": "datum.s == '2.0GHz'"}], "mark": {"type": "point", "filled": true, "size": 125, "opacity": 1, "stroke": "#222", "strokeWidth": 0.7, "clip": true}},
  {"transform": [{"filter": "datum.s == '1.2GHz'"}], "mark": {"type": "line", "strokeWidth": 3, "clip": true}},
  {"transform": [{"filter": "datum.s == '1.2GHz'"}], "mark": {"type": "point", "filled": true, "size": 125, "opacity": 1, "stroke": "#222", "strokeWidth": 0.7, "clip": true}}
 ]},
{"width": 272, "height": 222, "data": {"name": "f"},
 "title": {"text": "(f)", "subtitle": "RP", "align": "left", "dx": -4, "encoding": {"dx": {"value": -50}}},
 "encoding": {
  "x": {"field": "x", "type": "quantitative", "scale": {"domain": [0, 100], "nice": false, "zero": false}, "axis": {"values": [0,20,40,60,80,100], "title": "#Threads Assigned to Big Cluster"}},
  "y": {"field": "y", "type": "quantitative", "scale": {"domain": [10, 35], "nice": false, "zero": false}, "axis": {"values": [10,15,20,25,30,35], "title": "QoS"}},
  "color": {"field": "s", "type": "nominal", "scale": {"domain": ["2.0GHz", "1.2GHz"], "range": ["#800026", "#feb24c"]}, "legend": {"title": null, "orient": "none", "legendX": 16, "legendY": -30, "direction": "horizontal", "labelFont": "DejaVu Sans", "labelFontSize": 18, "encode": {"labels": {"update": {"fontSize": {"value": 18}, "font": {"value": "DejaVu Sans"}}}, "symbols": {"update": {"fill": {"signal": "datum.value === '1.2GHz' ? '#feb24c' : '#800026'"}, "strokeWidth": {"value": 0}, "opacity": {"value": 1}}}}}}
 },
 "layer": [
  {"transform": [{"filter": "datum.s == '2.0GHz'"}], "mark": {"type": "line", "strokeWidth": 3, "clip": true}},
  {"transform": [{"filter": "datum.s == '2.0GHz'"}], "mark": {"type": "point", "filled": true, "size": 125, "opacity": 1, "stroke": "#222", "strokeWidth": 0.7, "clip": true}},
  {"transform": [{"filter": "datum.s == '1.2GHz'"}], "mark": {"type": "line", "strokeWidth": 3, "clip": true}},
  {"transform": [{"filter": "datum.s == '1.2GHz'"}], "mark": {"type": "point", "filled": true, "size": 125, "opacity": 1, "stroke": "#222", "strokeWidth": 0.7, "clip": true}}
 ]}
], "spacing": 16, "resolve": {"scale": {"color": "independent"}, "legend": {"color": "independent"}}}
]
}
